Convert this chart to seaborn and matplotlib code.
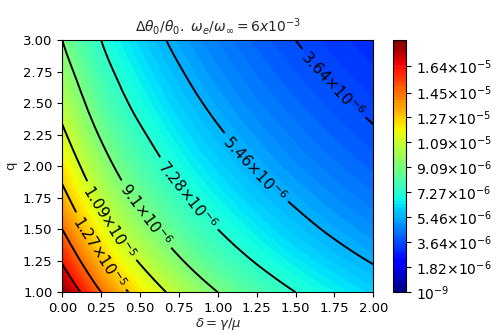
import numpy as np
import pandas as pd
import matplotlib
matplotlib.use("Agg")
import matplotlib.pyplot as plt
import matplotlib.tri as mtri
from matplotlib.ticker import FuncFormatter
import seaborn as sns

# === DATA (values in units of 1e-6) ===
delta = [0.0, 0.25, 0.5, 0.75, 1.0, 1.25, 1.5, 1.75, 2.0]
q_vals = [1.0, 1.25, 1.5, 1.75, 2.0, 2.25, 2.5, 2.75, 3.0]

row_q100 = [18.2, 14.56, 12.13, 10.4, 9.1, 8.09, 7.28, 6.62, 6.07]
row_q125 = [16.18, 12.94, 10.79, 9.25, 8.09, 7.19, 6.47, 5.88, 5.39]
row_q150 = [14.56, 11.65, 9.71, 8.32, 7.28, 6.47, 5.82, 5.29, 4.85]
row_q175 = [13.24, 10.59, 8.83, 7.57, 6.62, 5.88, 5.30, 4.81, 4.41]
row_q200 = [12.13, 9.71, 8.09, 6.93, 6.07, 5.39, 4.85, 4.41, 4.04]
row_q225 = [11.2, 8.96, 7.47, 6.40, 5.60, 4.98, 4.48, 4.07, 3.73]
row_q250 = [10.4, 8.32, 6.93, 5.94, 5.20, 4.62, 4.16, 3.78, 3.47]
row_q275 = [9.71, 7.77, 6.47, 5.55, 4.85, 4.31, 3.88, 3.53, 3.24]
row_q300 = [9.1, 7.28, 6.07, 5.20, 4.55, 4.04, 3.64, 3.31, 3.03]

line_levels = [3.64e-6, 5.46e-6, 7.28e-6, 9.1e-6, 1.092e-5, 1.274e-5, 1.456e-5, 1.638e-5]
labeled_levels = [3.64e-6, 5.46e-6, 7.28e-6, 9.1e-6, 1.092e-5, 1.274e-5]
cbar_ticks = [1e-9, 1.82e-6, 3.64e-6, 5.46e-6, 7.27e-6, 9.09e-6, 1.09e-5, 1.27e-5, 1.45e-5, 1.64e-5]

TITLE = r"$\Delta\theta_0/\theta_0.\ \omega_e/\omega_\infty = 6x10^{-3}$"

sns.set_style("ticks")
plt.rcParams["font.family"] = ["DejaVu Sans"]
plt.rcParams["axes.edgecolor"] = "black"
plt.rcParams["xtick.color"] = "black"
plt.rcParams["ytick.color"] = "black"


def sci(v, pos=None):
    m, e = f"{v:.2e}".split("e")
    m = m.rstrip("0").rstrip(".")
    e = int(e)
    if m == "1":
        return rf"$10^{{{e}}}$"
    return rf"${m}{{\times}}10^{{{e}}}$"


df = pd.DataFrame(
    [row_q100, row_q125, row_q150, row_q175, row_q200,
     row_q225, row_q250, row_q275, row_q300],
    index=q_vals, columns=delta,
) * 1e-6

X, Y = np.meshgrid(df.columns.values, df.index.values)
tri = mtri.Triangulation(X.ravel(), Y.ravel())
refiner = mtri.UniformTriRefiner(tri)
tri_f, Z_f = refiner.refine_field(df.values.ravel(), subdiv=4)

fig = plt.figure(figsize=(5.01, 3.34), dpi=100)
ax = fig.add_axes([0.1243, 0.125, 0.6208, 0.7545])
cax = fig.add_axes([0.7840, 0.125, 0.026, 0.7545])

fill_levels = np.linspace(1e-9, 1.83e-5, 81)
cf = ax.tricontourf(tri_f, Z_f, levels=fill_levels, cmap="jet")
cs = ax.tricontour(tri_f, Z_f, levels=line_levels, colors="black", linewidths=1.4)

label_pos = [(1.73, 2.64), (1.23, 1.97), (0.80, 1.77), (0.53, 1.61), (0.32, 1.57), (0.24, 1.32)]
ax.clabel(cs, levels=labeled_levels, fmt=sci, manual=label_pos, fontsize=11, inline=True)

cb = fig.colorbar(cf, cax=cax, ticks=cbar_ticks, format=FuncFormatter(sci))
cb.ax.tick_params(labelsize=10)
cb.outline.set_linewidth(0.8)

ax.set_xlim(0, 2)
ax.set_ylim(1, 3)
ax.set_xticks(np.arange(0, 2.01, 0.25))
ax.set_yticks(np.arange(1, 3.01, 0.25))
ax.xaxis.set_major_formatter(FuncFormatter(lambda v, p: f"{v:.2f}"))
ax.yaxis.set_major_formatter(FuncFormatter(lambda v, p: f"{v:.2f}"))
ax.tick_params(labelsize=9.5)
ax.set_xlabel(r"$\delta = \gamma/\mu$", fontsize=9.5, labelpad=1)
ax.set_ylabel("q", fontsize=9.5)
ax.set_title(TITLE, fontsize=10)

fig.savefig("out.png", dpi=100)
